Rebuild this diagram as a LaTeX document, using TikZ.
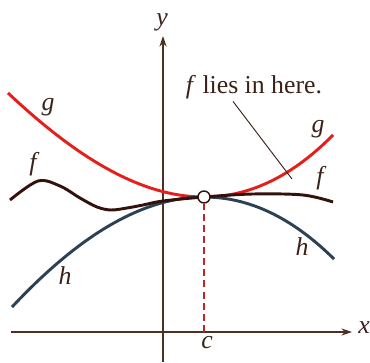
\documentclass[tikz,border=0pt]{standalone}
\usepackage{fontspec}
\setmainfont{Liberation Serif}
\usetikzlibrary{arrows.meta}
\definecolor{gred}{RGB}{228,32,28}
\definecolor{dashred}{RGB}{185,40,40}
\definecolor{fbrown}{RGB}{52,18,12}
\definecolor{hslate}{RGB}{44,66,84}
\definecolor{axbrown}{RGB}{78,48,34}
\definecolor{inkbrown}{RGB}{58,34,24}

\begin{document}
\begin{tikzpicture}[x=0.03cm,y=0.03cm,
  lbl/.style={text=inkbrown,font=\fontsize{22}{24}\selectfont\itshape,inner sep=0pt},
  curve/.style={line width=2.5pt}]
 \useasboundingbox (-163,-30) rectangle (207,332);
 % axes
 \coordinate (xl) at (-152,0); \coordinate (xr) at (189,0);
 \coordinate (yb) at (0,-30); \coordinate (yt) at (0,296);
 \draw[axbrown,line width=1.2pt,-{Stealth[length=9pt,width=6pt]}] (xl) -- (xr);
 \draw[axbrown,line width=1.2pt,-{Stealth[length=9pt,width=6pt]}] (yb) -- (yt);
 \node[lbl] (xlab) at (201,4) {x};
 \node[lbl] (ylab) at (-1,310) {y};
 % the three functions
 \draw[gred,curve] plot[domain=-155:170,samples=120,smooth]
   (\x,{135+33.22*((\x-41)/100)^2+3.134*((\x-41)/100)^3});
 \draw[hslate,curve] plot[domain=-151:171,samples=120,smooth]
   (\x,{135-33.93*((\x-41)/100)^2-2.126*((\x-41)/100)^3});
 \draw[fbrown,curve] plot[smooth,tension=0.55] coordinates
   {(-153,132) (-125,151) (-103,146) (-83,134) (-66,125) (-52,122) (-36,124) (-20,127) (0,131) (41,135) (90,138) (140,137) (170,130)};
 % point c
 \coordinate (cx) at (41,0);
 \node[circle,draw=fbrown,fill=white,line width=1.2pt,minimum size=0.36cm,inner sep=0pt] (P) at (41,135) {};
 \draw[dashred,line width=0.9pt,dash pattern=on 6pt off 3.5pt] (cx) -- (P.south);
 \node[lbl] (clab) at (44,-11) {c};
 % labels
 \node[lbl] (gl) at (-115,225) {g};
 \node[lbl] (fl) at (-130,168) {f};
 \node[lbl] (hl) at (-98,56) {h};
 \node[lbl] (gr) at (155,203) {g};
 \node[lbl] (fr) at (157,154) {f};
 \node[lbl] (hr) at (139,85) {h};
 % note
 \node[text=inkbrown,font=\fontsize{22}{24}\selectfont,inner sep=2pt] (note) at (91,245) {\textit{f} lies in here.};
 \coordinate (inside) at (129,153);
 \draw[inkbrown,line width=0.8pt] ([xshift=-0.63cm]note.south) -- (inside);
\end{tikzpicture}
\end{document}
